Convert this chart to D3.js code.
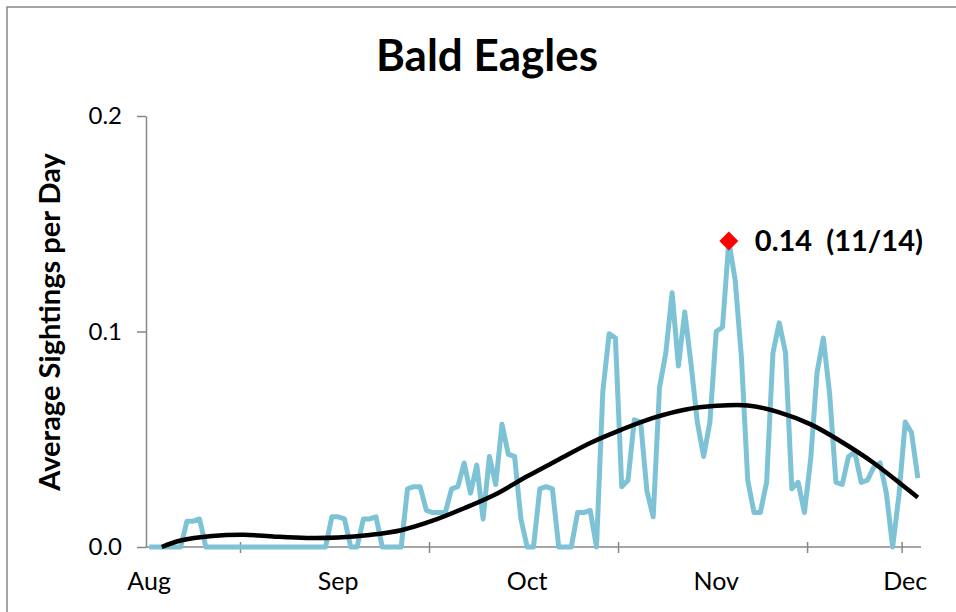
<!DOCTYPE html>
<html>
<head>
<meta charset="utf-8">
<script src="https://cdn.jsdelivr.net/npm/d3@7"></script>
<style>
  body { margin: 0; background: #fff; }
  text { font-family: Lato, "Open Sans", sans-serif; fill: #000; }
</style>
</head>
<body>
<div id="chart"></div>
<script>
// average sightings per day, one value per day category (early Aug .. early Dec)
var sightings = [
  0, 0, 0, 0, 0, 0, 0.012, 0.012, 0.013, 0,
  0, 0, 0, 0, 0, 0, 0, 0, 0, 0,
  0, 0, 0, 0, 0, 0, 0, 0, 0, 0.014,
  0.014, 0.013, 0, 0, 0.013, 0.013, 0.014, 0, 0, 0,
  0, 0.027, 0.028, 0.028, 0.017, 0.016, 0.016, 0.016, 0.027, 0.028,
  0.039, 0.025, 0.038, 0.013, 0.042, 0.029, 0.057, 0.043, 0.042, 0.013,
  0, 0, 0.027, 0.028, 0.027, 0, 0, 0, 0.016, 0.016,
  0.017, 0, 0.072, 0.099, 0.097, 0.028, 0.031, 0.059, 0.058, 0.026,
  0.014, 0.074, 0.090, 0.118, 0.084, 0.109, 0.085, 0.058, 0.042, 0.058,
  0.100, 0.102, 0.142, 0.124, 0.088, 0.031, 0.016, 0.016, 0.030, 0.090,
  0.104, 0.090, 0.027, 0.030, 0.016, 0.041, 0.081, 0.097, 0.071, 0.030,
  0.029, 0.042, 0.044, 0.030, 0.031, 0.037, 0.039, 0.025, 0, 0.024,
  0.058, 0.053, 0.032
];

// trend line at a few category positions
var trendIdx = [2, 5, 10, 15, 20, 25, 30, 35, 40, 45, 50, 55, 60, 65, 70, 75, 80, 85, 90, 95, 100, 105, 110, 115, 120, 122];
var trendVal = [0, 0.003, 0.0051, 0.0057, 0.0048, 0.0042, 0.0044, 0.0056, 0.0078, 0.0122, 0.018, 0.0245, 0.0328,
  0.0406, 0.0483, 0.0545, 0.0599, 0.0637, 0.0655, 0.0657, 0.0625, 0.0569, 0.0486, 0.039, 0.0276, 0.023];

// month labels sit on every 30th category, tick marks between categories
var monthLabels = ["Aug", "Sep", "Oct", "Nov", "Dec"];
var monthLabelAt = [0, 30, 60, 90, 120];
var xTickAt = [14.5, 44.5, 74.5, 104.5, 119.5];
var yTicks = [0, 0.1, 0.2];
var peakDate = "11/14";

var width = 956,
    height = 612;

var svg = d3.select("#chart").append("svg")
    .attr("width", width)
    .attr("height", height);

// chart frame (runs off the right and bottom edges)
svg.append("rect")
    .attr("x", 7).attr("y", 7)
    .attr("width", 1000).attr("height", 1000)
    .attr("fill", "none")
    .attr("stroke", "#878787")
    .attr("stroke-width", 1.5);

var x = d3.scaleLinear().domain([-0.5, sightings.length - 0.5]).range([146, 921]);
var y = d3.scaleLinear().domain([0, 0.2]).range([547, 116]);

svg.append("text")
    .attr("x", 487).attr("y", 71)
    .attr("text-anchor", "middle")
    .style("font-size", "44px")
    .style("font-weight", "bold")
    .text("Bald Eagles");

// y axis
var yAxis = svg.append("g")
    .attr("transform", "translate(" + x(-0.5) + ",0)")
    .call(d3.axisLeft(y).tickValues(yTicks).tickFormat(d3.format(".1f"))
        .tickSizeInner(9).tickSizeOuter(0).tickPadding(15));
yAxis.select(".domain").attr("stroke", "#878787").attr("stroke-width", 1.5);
yAxis.selectAll(".tick line").attr("stroke", "#878787").attr("stroke-width", 1.5);
yAxis.selectAll(".tick text")
    .style("font-family", "Lato, sans-serif")
    .style("font-size", "24px")
    .attr("fill", "#000");

svg.append("text")
    .attr("transform", "translate(60,322) rotate(-90)")
    .attr("text-anchor", "middle")
    .style("font-size", "29px")
    .style("font-weight", "bold")
    .text("Average Sightings per Day");

// x axis: base line, crossing tick marks, month labels
svg.append("line")
    .attr("x1", x(-0.5)).attr("x2", x(sightings.length - 0.5))
    .attr("y1", y(0)).attr("y2", y(0))
    .attr("stroke", "#878787")
    .attr("stroke-width", 1.5);

svg.selectAll(".xtick")
    .data(xTickAt)
    .enter().append("line")
    .attr("class", "xtick")
    .attr("x1", function(d) { return x(d); })
    .attr("x2", function(d) { return x(d); })
    .attr("y1", y(0) - 5)
    .attr("y2", y(0) + 6)
    .attr("stroke", "#878787")
    .attr("stroke-width", 1.5);

svg.selectAll(".xlabel")
    .data(monthLabels)
    .enter().append("text")
    .attr("class", "xlabel")
    .attr("x", function(d, i) { return x(monthLabelAt[i]); })
    .attr("y", 590)
    .attr("text-anchor", "middle")
    .style("font-size", "25px")
    .text(function(d) { return d; });

// daily series
var line = d3.line()
    .x(function(d, i) { return x(i); })
    .y(function(d) { return y(d); });

svg.append("path")
    .datum(sightings)
    .attr("fill", "none")
    .attr("stroke", "#7dc3d5")
    .attr("stroke-width", 5)
    .attr("stroke-linejoin", "round")
    .attr("d", line);

// trend line
var trend = d3.line()
    .curve(d3.curveCatmullRom.alpha(0.5))
    .x(function(d, i) { return x(trendIdx[i]); })
    .y(function(d) { return y(d); });

svg.append("path")
    .datum(trendVal)
    .attr("fill", "none")
    .attr("stroke", "#000")
    .attr("stroke-width", 4.5)
    .attr("d", trend);

// peak marker and label
var peak = d3.maxIndex(sightings);
svg.append("path")
    .attr("d", d3.symbol().type(d3.symbolDiamond2).size(230)())
    .attr("transform", "translate(" + x(peak) + "," + y(sightings[peak]) + ")")
    .attr("fill", "#ff0000");

svg.append("text")
    .attr("x", x(peak) + 26)
    .attr("y", y(sightings[peak]))
    .attr("dy", "0.35em")
    .style("font-size", "29px")
    .style("font-weight", "bold")
    .style("white-space", "pre")
    .text(d3.format(".2f")(sightings[peak]) + "  (" + peakDate + ")");
</script>
</body>
</html>
